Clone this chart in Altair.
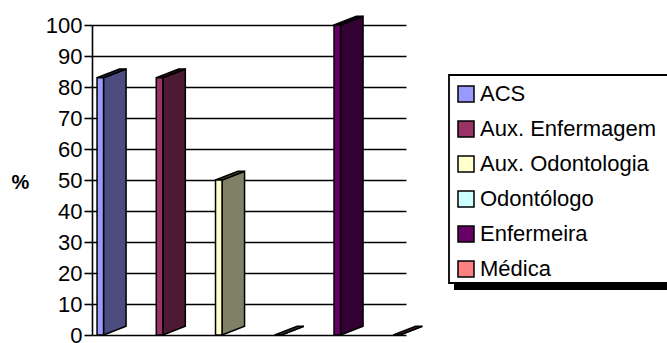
import altair as alt
import pandas as pd

# Share of each professional category (%)
categories = ["ACS", "Aux. Enfermagem", "Aux. Odontologia", "Odontólogo", "Enfermeira", "Médica"]
values = [83, 83, 50, 0, 100, 0]

front_colors = ["#9999FF", "#993366", "#FFFFCC", "#CCFFFF", "#660066", "#FF8080"]
side_colors = ["#4C4C80", "#4D1A33", "#808066", "#668080", "#330033", "#804040"]
top_colors = ["#26264D", "#33101F", "#4D4D3A", "#3A4D4D", "#1A001A", "#4D2626"]

# Pseudo 3-D column geometry, in category-slot units (x) and percent units (y)
FRONT_LEFT = 0.085
FRONT_WIDTH = 0.11
DEPTH_X = 0.38
DEPTH_Y = 2.8
X_MAX = 5.3

front_rows, side_rows, top_rows = [], [], []
for i, (cat, v) in enumerate(zip(categories, values)):
    x0 = i + FRONT_LEFT
    x1 = x0 + FRONT_WIDTH
    front_rows.append({"cat": cat, "x0": x0, "x1": x1, "base": 0, "v": v})
    side_rows.append({"cat": cat, "x": x1, "lo": 0, "hi": v, "c": side_colors[i]})
    side_rows.append({"cat": cat, "x": x1 + DEPTH_X, "lo": DEPTH_Y, "hi": v + DEPTH_Y, "c": side_colors[i]})
    top_rows.append({"cat": cat, "y": v, "a": x0, "b": x1, "c": top_colors[i]})
    top_rows.append({"cat": cat, "y": v + DEPTH_Y, "a": x0 + DEPTH_X, "b": x1 + DEPTH_X, "c": top_colors[i]})

front_df = pd.DataFrame(front_rows)
side_df = pd.DataFrame(side_rows)
top_df = pd.DataFrame(top_rows)

FONT = "Liberation Sans"
x_scale = alt.Scale(domain=[0, X_MAX], nice=False, zero=False)
y_scale = alt.Scale(domain=[0, 100], nice=False)

y_axis = alt.Axis(
    values=list(range(0, 101, 10)), labelOverlap=False,
    grid=True, gridColor="black", gridWidth=1.6, gridOpacity=1,
    domainColor="black", domainWidth=1.6,
    tickColor="black", tickSize=8, tickWidth=1.6,
    labelFont=FONT, labelFontSize=22, labelColor="black", labelPadding=2,
    labelBound=False, labelFlush=False,
    title="%", titleFont=FONT, titleFontSize=20, titleFontWeight="bold",
    titleColor="black", titleAngle=0, titleAlign="center", titleBaseline="middle",
    titleX=-72, titleY=157,
)

side = alt.Chart(side_df).mark_area(
    orient="vertical", stroke="black", strokeWidth=1.5, clip=False, opacity=1
).encode(
    x=alt.X("x:Q", scale=x_scale, axis=None),
    y=alt.Y("lo:Q", scale=y_scale, axis=y_axis),
    y2="hi:Q",
    fill=alt.Fill("c:N", scale=None),
    detail="cat:N",
)

top = alt.Chart(top_df).mark_area(
    orient="horizontal", stroke="black", strokeWidth=1.5, clip=False, opacity=1
).encode(
    y=alt.Y("y:Q", scale=y_scale, axis=y_axis),
    x=alt.X("a:Q", scale=x_scale, axis=None),
    x2="b:Q",
    fill=alt.Fill("c:N", scale=None),
    detail="cat:N",
)

front = alt.Chart(front_df).mark_rect(
    stroke="black", strokeWidth=1.5, clip=False, opacity=1
).encode(
    x=alt.X("x0:Q", scale=x_scale, axis=None),
    x2="x1:Q",
    y=alt.Y("base:Q", scale=y_scale, axis=y_axis),
    y2="v:Q",
    fill=alt.Fill(
        "cat:N",
        scale=alt.Scale(domain=categories, range=front_colors),
        sort=categories,
        legend=alt.Legend(
            title=None, orient="none", legendX=355, legendY=50,
            symbolType="square", symbolSize=256,
            symbolStrokeColor="black", symbolStrokeWidth=1.5, symbolOpacity=1,
            labelFont=FONT, labelFontSize=22, labelColor="black", labelLimit=400,
            labelOffset=3, rowPadding=13, padding=8,
        ),
    ),
)

# Legend frame with a drop shadow, running off the right edge
frame_df = pd.DataFrame({"k": [0]})
shadow = alt.Chart(frame_df).mark_rect(color="black", clip=False).encode(
    x=alt.value(362), x2=alt.value(620), y=alt.value(56), y2=alt.value(265)
)
frame = alt.Chart(frame_df).mark_rect(
    fill="white", stroke="black", strokeWidth=1.8, clip=False
).encode(
    x=alt.value(357), x2=alt.value(610), y=alt.value(50), y2=alt.value(258)
)

chart = alt.layer(shadow, frame, side, top, front).properties(
    width=314, height=310,
    autosize=alt.AutoSizeParams(type="none"),
    padding={"left": 92, "top": 25, "right": 261, "bottom": 8},
    background="white",
).configure_view(stroke=None)

chart.save("out.html", embed_options={"renderer": "svg", "actions": False})
